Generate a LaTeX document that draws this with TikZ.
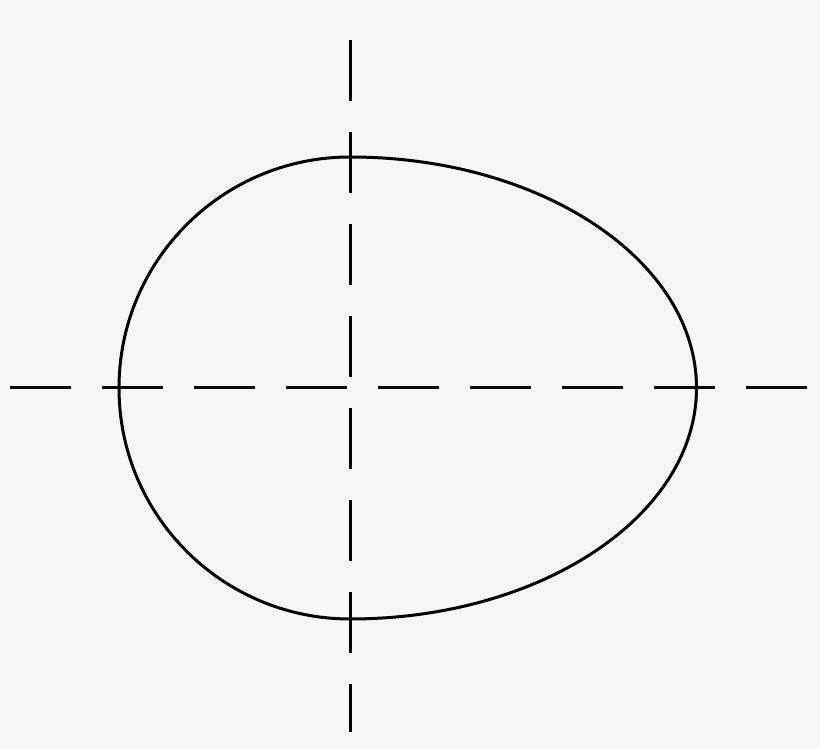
\documentclass[tikz,border=0pt]{standalone}
\definecolor{bg}{RGB}{246,246,246}
\tikzset{
  axisline/.style={line width=3pt, black, dash pattern=on 61pt off 31pt},
  eggline/.style={line width=3pt, black}
}
\begin{document}
\begin{tikzpicture}[x=1pt,y=1pt]
  \fill[bg] (0,0) rectangle (820,749);
  \useasboundingbox (0,0) rectangle (820,749);
  \coordinate (hl) at (10,361.5);
  \coordinate (hr) at (810,361.5);
  \coordinate (vt) at (350,709);
  \coordinate (vb) at (350,17);
  \draw[axisline] (hl) -- (hr);
  \draw[axisline] (vt) -- (vb);
  \draw[eggline] (350,592)
    arc[start angle=90, end angle=270, x radius=231, y radius=231]
    arc[start angle=270, end angle=450, x radius=346.5, y radius=231]
    -- cycle;
\end{tikzpicture}
\end{document}
